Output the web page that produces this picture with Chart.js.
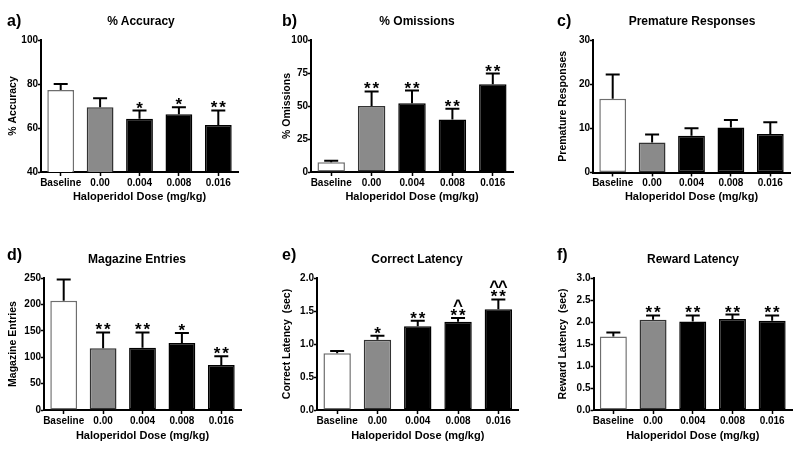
<!DOCTYPE html>
<html>
<head>
<meta charset="utf-8">
<script src="https://cdn.jsdelivr.net/npm/chart.js@4.4.1/dist/chart.umd.min.js"></script>
<style>
  body { margin:0; background:#fff; width:800px; height:455px; overflow:hidden; position:relative;
         font-family:"Liberation Sans", Arial, sans-serif; font-weight:bold; color:#000; }
  canvas { position:absolute; }
  .letter { position:absolute; font-size:16px; line-height:16px; }
  .title { position:absolute; font-size:12px; line-height:14px; transform:translateX(-50%); white-space:nowrap; }
</style>
</head>
<body>
<script>
const doses = ['Baseline', '0.00', '0.004', '0.008', '0.016'];

const accuracy = [77.3, 69.4, 64.2, 66.2, 61.4];
const accuracyErr = [2.7, 4.1, 3.7, 3.2, 6.6];
const accuracySig = ['', '', '*', '*', '**'];
const accuracyTicks = [40, 60, 80, 100];

const omissions = [7.3, 50, 52, 39.8, 66.5];
const omissionsErr = [1.2, 11, 9.7, 8.1, 8.1];
const omissionsSig = ['', '**', '**', '**', '**'];
const omissionsTicks = [0, 25, 50, 75, 100];

const premature = [16.7, 6.8, 8.3, 10.2, 8.7];
const prematureErr = [5.5, 1.8, 1.7, 1.7, 2.7];
const prematureSig = ['', '', '', '', ''];
const prematureTicks = [0, 10, 20, 30];

const magazine = [207, 117, 118, 127, 85];
const magazineErr = [40, 30, 29, 19, 17];
const magazineSig = ['', '**', '**', '*', '**'];
const magazineTicks = [0, 50, 100, 150, 200, 250];

const correctLat = [0.86, 1.066, 1.268, 1.338, 1.525];
const correctLatErr = [0.035, 0.06, 0.085, 0.055, 0.15];
const correctLatSig = ['', '*', '**', '**', '**'];
const correctLatHat = ['', '', '', '^', '^^'];
const correctLatTicks = [0, 0.5, 1.0, 1.5, 2.0];

const rewardLat = [1.67, 2.05, 2.01, 2.07, 2.03];
const rewardLatErr = [0.09, 0.1, 0.14, 0.1, 0.12];
const rewardLatSig = ['', '**', '**', '**', '**'];
const rewardLatTicks = [0, 0.5, 1.0, 1.5, 2.0, 2.5, 3.0];

const FONT = '"Liberation Sans", Arial, sans-serif';
const fillColors = ['#ffffff', '#8a8a8a', '#000000', '#000000', '#000000'];
const edgeColors = ['#6e6e6e', '#333333', '#000000', '#000000', '#000000'];

// layout of each panel (canvas box + plot area), page pixels
const panels = [
  {letter:'a)', title:'% Accuracy', yTitle:'% Accuracy', vals:accuracy, err:accuracyErr, sig:accuracySig, ticks:accuracyTicks, dec:0,
   cx:0, cy:0, w:265, h:225, L:41, R:238, T:40, B:172, yt:13.5, tx:141, ty:20.5, lx:7, ly:13, xt:196.5},
  {letter:'b)', title:'% Omissions', yTitle:'% Omissions', vals:omissions, err:omissionsErr, sig:omissionsSig, ticks:omissionsTicks, dec:0,
   cx:265, cy:0, w:265, h:225, L:311, R:513, T:40, B:172, yt:287, tx:417, ty:20.5, lx:282, ly:13, xt:196.5},
  {letter:'c)', title:'Premature Responses', yTitle:'Premature Responses', vals:premature, err:prematureErr, sig:prematureSig, ticks:prematureTicks, dec:0,
   cx:530, cy:0, w:270, h:225, L:593, R:790, T:40, B:172.5, yt:563.3, tx:692, ty:20.5, lx:557, ly:13, xt:196.5},
  {letter:'d)', title:'Magazine Entries', yTitle:'Magazine Entries', vals:magazine, err:magazineErr, sig:magazineSig, ticks:magazineTicks, dec:0,
   cx:0, cy:225, w:265, h:230, L:44, R:241, T:278, B:410, yt:13.3, tx:137, ty:258.5, lx:7, ly:247, xt:435.7},
  {letter:'e)', title:'Correct Latency', yTitle:'Correct Latency  (sec)', vals:correctLat, err:correctLatErr, sig:correctLatSig, hat:correctLatHat, ticks:correctLatTicks, dec:1,
   cx:265, cy:225, w:265, h:230, L:317, R:518.5, T:278, B:410, yt:286.7, tx:417, ty:258.5, lx:282, ly:247, xt:435.7},
  {letter:'f)', title:'Reward Latency', yTitle:'Reward Latency  (sec)', vals:rewardLat, err:rewardLatErr, sig:rewardLatSig, ticks:rewardLatTicks, dec:1,
   cx:530, cy:225, w:270, h:230, L:593.5, R:792, T:278, B:410, yt:563.3, tx:693, ty:258.5, lx:557, ly:247, xt:435.7}
];

// error bars (upper only) and significance marks
const errorBars = {
  id: 'errorBars',
  afterDatasetsDraw(chart) {
    const ctx = chart.ctx;
    const y = chart.scales.y;
    const ds = chart.data.datasets[0];
    const meta = chart.getDatasetMeta(0);
    ctx.save();
    ctx.strokeStyle = '#000';
    ctx.fillStyle = '#000';
    ctx.lineWidth = 2;
    ctx.font = 'bold 17px ' + FONT;
    ctx.textAlign = 'center';
    ctx.textBaseline = 'alphabetic';
    meta.data.forEach((bar, i) => {
      const yTop = y.getPixelForValue(ds.data[i] + ds.err[i]);
      ctx.beginPath();
      ctx.moveTo(bar.x, bar.y);
      ctx.lineTo(bar.x, yTop);
      ctx.moveTo(bar.x - 7, yTop);
      ctx.lineTo(bar.x + 7, yTop);
      ctx.stroke();

      let bottom = yTop - 2;
      [ds.sig[i], ds.hat ? ds.hat[i] : ''].forEach(s => {
        if (!s) return;
        const m = ctx.measureText(s[0]);
        const base = bottom - m.actualBoundingBoxDescent;
        for (let k = 0; k < s.length; k++) {
          ctx.fillText(s[k], bar.x + (k - (s.length - 1) / 2) * 8.5, base);
        }
        bottom = base - m.actualBoundingBoxAscent - 2;
      });
    });
    ctx.restore();
  }
};

panels.forEach(p => {
  const canvas = document.createElement('canvas');
  canvas.width = p.w;
  canvas.height = p.h;
  canvas.style.left = p.cx + 'px';
  canvas.style.top = p.cy + 'px';
  document.body.appendChild(canvas);

  const letter = document.createElement('div');
  letter.className = 'letter';
  letter.textContent = p.letter;
  letter.style.left = p.lx + 'px';
  letter.style.top = p.ly + 'px';
  document.body.appendChild(letter);

  const title = document.createElement('div');
  title.className = 'title';
  title.textContent = p.title;
  title.style.left = p.tx + 'px';
  title.style.top = (p.ty - 7) + 'px';
  document.body.appendChild(title);

  const yLine = 10.5 * 1.2;
  const xLine = 11 * 1.2;
  const padLeft = p.yt - p.cx - yLine / 2;
  const yWidth = p.L - p.cx - padLeft;
  const xHeight = p.cy + p.h - p.B;

  new Chart(canvas, {
    type: 'bar',
    data: {
      labels: doses,
      datasets: [{
        data: p.vals,
        err: p.err,
        sig: p.sig,
        hat: p.hat,
        backgroundColor: fillColors,
        borderColor: edgeColors,
        borderWidth: 1.5,
        borderSkipped: false,
        barPercentage: 0.68,
        categoryPercentage: 1
      }]
    },
    options: {
      responsive: false,
      animation: false,
      events: [],
      layout: { padding: { left: padLeft, right: p.cx + p.w - p.R, top: p.T - p.cy, bottom: 0 } },
      plugins: { legend: { display: false }, tooltip: { enabled: false } },
      scales: {
        x: {
          afterFit: s => { s.height = xHeight; },
          grid: { offset: false, drawOnChartArea: false, drawTicks: true, tickLength: 4, tickWidth: 1.5, tickColor: '#000' },
          border: { display: true, color: '#000', width: 2 },
          ticks: { color: '#000', padding: 1, maxRotation: 0, autoSkip: false, font: { family: FONT, size: 10, weight: 'bold' } },
          title: { display: true, text: 'Haloperidol Dose (mg/kg)', color: '#000',
                   padding: { top: 0, bottom: p.cy + p.h - p.xt - xLine / 2 },
                   font: { family: FONT, size: 11, weight: 'bold' } }
        },
        y: {
          min: p.ticks[0],
          max: p.ticks[p.ticks.length - 1],
          afterFit: s => { s.width = yWidth; },
          afterBuildTicks: s => { s.ticks = p.ticks.map(v => ({ value: v })); },
          grid: { drawOnChartArea: false, drawTicks: true, tickLength: 3, tickWidth: 1.5, tickColor: '#000' },
          border: { display: true, color: '#000', width: 2 },
          ticks: { color: '#000', padding: 0, callback: v => Number(v).toFixed(p.dec),
                   font: { family: FONT, size: 10, weight: 'bold' } },
          title: { display: true, text: p.yTitle, color: '#000', padding: 0,
                   font: { family: FONT, size: 10.5, weight: 'bold' } }
        }
      }
    },
    plugins: [errorBars]
  });
});
</script>
</body>
</html>
